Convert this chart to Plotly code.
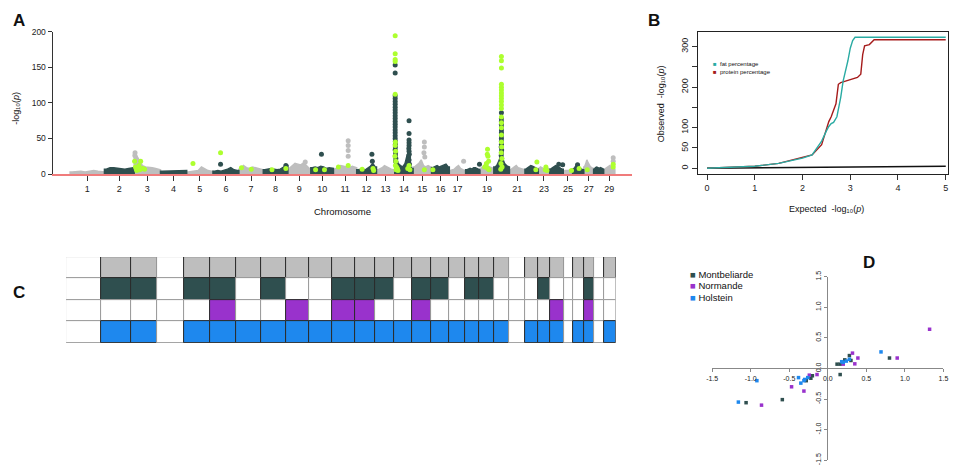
import plotly.graph_objects as go

W0, H0 = 963, 474
M = 8  # default page body margin in the browser
W, H = W0 - M, H0 - M
def px(x): return (x - M) / W
def py(y): return 1 - (y - M) / H

FONT = "Liberation Sans, Arial, DejaVu Sans, sans-serif"
GREY, DARK, GREEN = "#bebebe", "#2f4f4f", "#adff2f"
PURPLE, BLUE = "#9932cc", "#1e88ee"

# ---------------- data ----------------
chrom_len = [158.3, 137.1, 121.4, 120.7, 121.2, 119.5, 112.6, 113.4, 105.7, 104.3,
             107.3, 91.2, 84.2, 84.6, 85.3, 81.7, 75.2, 66.0, 64.1, 72.0,
             71.6, 61.4, 52.5, 62.7, 42.9, 51.7, 45.4, 46.3, 51.5]
chrom_tick_labels = ["1", "2", "3", "4", "5", "6", "7", "8", "9", "10", "11", "12", "13",
                     "14", "15", "16", "17", "19", "21", "23", "25", "27", "29"]

# background envelope of -log10(p) per chromosome (8 evenly spaced readings)
bg_levels = [
    [3, 4, 4, 3, 4, 5, 4, 3], [7, 9, 9, 8, 8, 7, 8, 9], [28, 20, 12, 10, 10, 9, 8, 6],
    [4, 4, 4, 4, 4, 4, 5, 5], [3, 4, 4, 5, 10, 7, 5, 4], [4, 5, 4, 5, 7, 9, 6, 5],
    [7, 12, 9, 8, 10, 9, 7, 6], [6, 7, 8, 7, 6, 7, 10, 12], [8, 12, 15, 14, 13, 16, 12, 8],
    [9, 10, 9, 11, 10, 8, 9, 8], [7, 10, 12, 11, 10, 9, 11, 9], [6, 7, 7, 6, 8, 11, 15, 10],
    [6, 7, 9, 12, 10, 8, 7, 6], [25, 15, 12, 10, 15, 28, 12, 8], [10, 12, 15, 20, 12, 10, 12, 10],
    [9, 11, 12, 10, 11, 13, 14, 10], [5, 6, 7, 10, 12, 8, 6, 5], [6, 7, 8, 7, 9, 9, 8, 6],
    [8, 10, 9, 14, 11, 10, 9, 8], [10, 12, 18, 25, 22, 15, 12, 10], [6, 8, 10, 12, 9, 8, 7, 6],
    [7, 9, 10, 12, 11, 10, 8, 7], [8, 10, 9, 8, 7, 8, 9, 7], [7, 9, 10, 12, 11, 9, 8, 7],
    [4, 5, 5, 4, 5, 6, 5, 4], [7, 9, 12, 11, 9, 8, 7, 6], [10, 14, 20, 16, 12, 10, 9, 8],
    [7, 9, 10, 9, 8, 9, 8, 7], [6, 8, 9, 11, 12, 10, 8, 7],
]

grey_chr = [11, 11, 11, 11, 15, 15, 15, 15, 17, 29, 29, 9, 3, 3]
grey_pos = [68, 68, 68, 68, 52, 52, 50, 54, 66, 44, 44, 80, 4, 3]
grey_val = [47, 40, 33, 25, 45, 38, 30, 24, 18, 23, 18, 17, 30, 26]

dark_chr = [6, 8, 10, 12, 12,
            14, 14, 14, 14, 14, 14, 14, 14, 14, 14, 14, 14, 14, 14, 14, 14, 14, 14, 14, 14, 14, 14, 14, 14, 14, 14,
            14, 14, 14, 14, 14, 14, 14, 14, 14, 14, 14, 14,
            18,
            20, 20, 20, 20, 20, 20, 20, 20, 20, 20, 20, 20, 20, 20, 20, 20,
            24, 24, 26]
dark_pos = [35, 104, 49, 70, 72,
            2, 2, 2, 2, 2, 2, 2, 2, 2, 2, 2, 2, 2, 2, 2, 2, 2, 2, 3, 3, 3, 2, 4, 3, 5, 4,
            66, 66, 66, 66, 66, 65, 66, 67, 64, 66, 63, 68,
            64,
            35, 35, 35, 35, 35, 35, 35, 35, 35, 35, 35, 34, 36, 35, 34, 36,
            42, 60, 23]
dark_val = [14, 12, 28, 28, 18,
            153, 142, 110, 106, 102, 98, 94, 90, 86, 82, 78, 74, 70, 66, 62, 58, 54, 50, 46, 42, 38, 34, 30, 26, 22, 18,
            75, 57, 48, 44, 40, 36, 32, 28, 24, 20, 16, 14,
            14,
            86, 78, 74, 70, 66, 62, 58, 54, 50, 46, 42, 38, 34, 30, 26, 22,
            14, 13, 13]

green_chr = [3, 3, 3, 3, 3, 3, 3, 3, 3, 3, 5, 6, 7, 7, 8, 8, 10, 10, 11, 11, 12, 12, 12,
             14, 14, 14, 14, 14, 14, 14, 14, 14, 14, 14, 14, 14, 14, 14, 14, 14, 14, 15, 16,
             19, 19, 19, 19, 19, 19, 19, 19, 19,
             20, 20, 20, 20, 20, 20, 20, 20, 20, 20, 20, 20, 20, 20, 20, 20, 20, 20, 20, 20, 20, 20, 20,
             22, 22, 23, 23, 23, 25, 26, 27, 29, 29]
green_pos = [2, 6, 10, 16, 22, 30, 39, 48, 12, 26, 29, 35, 12, 57, 40, 104, 22, 63, 68, 23, 25, 75, 78,
             2, 2, 2, 2, 2, 3, 2, 4, 1, 5, 3, 8, 12, 6, 15, 60, 66, 70, 52, 6,
             35, 34, 37, 40, 28, 36, 42, 22, 30,
             35, 35, 35, 35, 35, 35, 35, 35, 35, 35, 35, 35, 35, 35, 35, 35, 35, 36, 34, 37, 33, 38, 32,
             55, 50, 35, 32, 40, 38, 30, 16, 44, 44]
green_val = [18, 10, 7, 8, 12, 18, 8, 7, 5, 6, 15, 30, 9, 7, 6, 8, 6, 6, 12, 10, 7, 8, 5,
             194, 169, 161, 158, 112, 45, 40, 32, 25, 18, 12, 10, 8, 6, 5, 8, 12, 6, 6, 6,
             35, 28, 25, 18, 12, 8, 6, 10, 15,
             165, 159, 149, 126, 122, 118, 114, 110, 106, 102, 97, 92, 80, 72, 65, 55, 45, 38, 30, 22, 15, 10, 7,
             17, 6, 10, 6, 5, 5, 8, 6, 10, 14]

qq_fat_x = [0, 0.5, 1.0, 1.5, 2.0, 2.2, 2.4, 2.5, 2.55, 2.6, 2.65, 2.72, 2.8, 2.85, 2.9, 2.95, 3.0, 3.05, 3.1, 5.0]
qq_fat_y = [0, 2, 5, 12, 25, 33, 67, 92, 103, 110, 113, 127, 175, 215, 239, 265, 296, 315, 323, 323]
qq_prot_x = [0, 0.5, 1.0, 1.5, 2.0, 2.2, 2.4, 2.5, 2.55, 2.6, 2.7, 2.75, 2.8, 2.9, 3.0, 3.15, 3.22, 3.26, 3.3, 3.4, 3.5, 5.0]
qq_prot_y = [0, 2, 5, 12, 26, 33, 58, 95, 115, 127, 159, 207, 211, 215, 219, 224, 232, 280, 302, 305, 317, 317]
qq_expected = [0, 5]

row_all = [0, 1, 1, 0, 1, 1, 1, 1, 1, 1, 1, 1, 1, 1, 1, 1, 1, 1, 1, 1, 0, 1, 1, 1, 0, 1, 1, 0, 1]
row_mont = [0, 1, 1, 0, 1, 1, 0, 1, 0, 0, 1, 1, 1, 0, 1, 1, 0, 1, 1, 0, 0, 0, 1, 0, 0, 0, 1, 0, 0]
row_norm = [0, 0, 0, 0, 0, 1, 0, 0, 1, 0, 1, 1, 0, 0, 1, 0, 0, 0, 0, 0, 0, 0, 0, 1, 0, 0, 1, 0, 0]
row_hol = [0, 1, 1, 0, 1, 1, 1, 1, 1, 1, 1, 1, 1, 1, 1, 1, 1, 1, 1, 1, 0, 1, 1, 1, 0, 1, 1, 0, 1]

mont_x = [0.80, 0.28, 0.16, 0.12, 0.16, 0.22, 0.30, -0.20, -0.28, -0.59, -1.06, -0.22]
mont_y = [0.17, 0.21, -0.10, 0.07, 0.07, 0.14, 0.13, -0.12, -0.20, -0.51, -0.56, -0.16]
norm_x = [1.32, 0.90, 0.39, 0.35, 0.32, 0.20, -0.24, -0.14, -0.47, -0.31, -0.86]
norm_y = [0.64, 0.17, 0.17, 0.075, 0.25, 0.07, -0.11, -0.10, -0.30, -0.37, -0.60]
hol_x = [0.69, 0.20, 0.24, 0.28, 0.18, -0.26, -0.30, -0.35, -0.31, -1.16, -0.92, -0.38]
hol_y = [0.27, 0.10, 0.12, 0.15, 0.11, -0.15, -0.18, -0.24, -0.20, -0.55, -0.20, -0.15]

# ---------------- derived positions ----------------
starts = []
acc = 0.0
for L in chrom_len:
    starts.append(acc)
    acc += L
total_len = acc
centers = [s + L / 2 for s, L in zip(starts, chrom_len)]
tick_centers = [centers[int(c) - 1] for c in chrom_tick_labels]

def gpos(chrs, poss):
    return [starts[c - 1] + p for c, p in zip(chrs, poss)]

fig = go.Figure()

# ---- Panel A: Manhattan ----
for parity, col in ((0, GREY), (1, DARK)):
    xs, ys = [], []
    for i, lv in enumerate(bg_levels):
        if i % 2 != parity:
            continue
        s, L = starts[i], chrom_len[i]
        n = len(lv)
        xs += [s, s] + [s + L * (k + 0.5) / n for k in range(n)] + [s + L, s + L, None]
        ys += [0, lv[0]] + list(lv) + [lv[-1], 0, None]
    fig.add_trace(go.Scatter(x=xs, y=ys, mode="lines", fill="toself", fillcolor=col,
                             line=dict(color=col, width=1.5), xaxis="x", yaxis="y",
                             hoverinfo="skip", showlegend=False))

for chrs, poss, vals, col in ((grey_chr, grey_pos, grey_val, GREY),
                              (dark_chr, dark_pos, dark_val, DARK),
                              (green_chr, green_pos, green_val, GREEN)):
    fig.add_trace(go.Scatter(x=gpos(chrs, poss), y=vals, mode="markers",
                             marker=dict(color=col, size=5, line=dict(width=0)),
                             xaxis="x", yaxis="y", showlegend=False, hoverinfo="skip",
                             cliponaxis=False))

# ---- Panel B: QQ ----
fig.add_trace(go.Scatter(x=qq_expected, y=qq_expected, mode="lines",
                         line=dict(color="#111", width=1.5), xaxis="x2", yaxis="y2",
                         showlegend=False, hoverinfo="skip"))
fig.add_trace(go.Scatter(x=qq_prot_x, y=qq_prot_y, mode="lines",
                         line=dict(color="#a51b1b", width=1.4), xaxis="x2", yaxis="y2",
                         showlegend=False, hoverinfo="skip"))
fig.add_trace(go.Scatter(x=qq_fat_x, y=qq_fat_y, mode="lines",
                         line=dict(color="#2aaba3", width=1.4), xaxis="x2", yaxis="y2",
                         showlegend=False, hoverinfo="skip"))

# ---- Panel C: grid ----
for row, base, col in ((row_all, 3, GREY), (row_mont, 2, DARK), (row_norm, 1, PURPLE), (row_hol, 0, BLUE)):
    fig.add_trace(go.Bar(x=centers, y=[1] * len(row), base=[base] * len(row), width=chrom_len,
                         marker=dict(color=[col if v else "white" for v in row],
                                     line=dict(color=["#2b2b2b" if v else "#9a9a9a" for v in row], width=1)),
                         xaxis="x3", yaxis="y3", showlegend=False, hoverinfo="skip"))

# ---- Panel D: scatter ----
for xs, ys, col in ((mont_x, mont_y, DARK), (norm_x, norm_y, PURPLE), (hol_x, hol_y, BLUE)):
    fig.add_trace(go.Scatter(x=xs, y=ys, mode="markers",
                             marker=dict(color=col, size=3.5, symbol="square", line=dict(width=0)),
                             xaxis="x4", yaxis="y4", showlegend=False, hoverinfo="skip",
                             cliponaxis=False))

def tf(size):
    return dict(size=size, color="#222", family=FONT)

axis_common = dict(showgrid=False, zeroline=False, ticks="outside", tickcolor="#333")
d_ticks = [-1.5, -1, -0.5, 0, 0.5, 1, 1.5]
d_text = ["-1.5", "-1.0", "-0.5", "0.0", "0.5", "1.0", "1.5"]

fig.update_layout(
    width=W, height=H, margin=dict(l=0, r=0, t=0, b=0),
    paper_bgcolor="white", plot_bgcolor="rgba(0,0,0,0)",
    font=dict(family=FONT, color="#222"),
    barmode="overlay", bargap=0,
    xaxis=dict(domain=[px(47), px(633)], range=[-81, 2590], anchor="y",
               showline=True, linecolor="#f07b7b", linewidth=1.5, ticklen=5,
               tickvals=tick_centers, ticktext=chrom_tick_labels, tickfont=tf(9), **axis_common),
    yaxis=dict(domain=[py(172), py(26)], range=[0, 200], anchor="x",
               showline=True, linecolor="#333", linewidth=1, ticklen=4,
               tickvals=[0, 50, 100, 150, 200], tickfont=tf(8.5), **axis_common),
    xaxis2=dict(domain=[px(700), px(953)], range=[-0.19, 5.05], anchor="y2",
                showline=True, mirror=True, linecolor="#222", linewidth=1.2, ticklen=5,
                tickvals=[0, 1, 2, 3, 4, 5], tickfont=tf(9), **axis_common),
    yaxis2=dict(domain=[py(172), py(26)], range=[-14.5, 337], anchor="x2",
                showline=True, mirror=True, linecolor="#222", linewidth=1.2, ticklen=5,
                tickvals=[0, 50, 100, 200, 300], tickangle=-90, tickfont=tf(9),
                minor=dict(dtick=50, tick0=0, ticks="outside", ticklen=5, tickcolor="#333"),
                **axis_common),
    xaxis3=dict(domain=[px(60.7), px(616.7)], range=[0, total_len], anchor="y3", visible=False),
    yaxis3=dict(domain=[py(345), py(257)], range=[0, 4], anchor="x3", visible=False),
    xaxis4=dict(domain=[px(714.3), px(948.3)], range=[-1.5, 1.5], anchor="free", position=py(370.7),
                showline=True, linecolor="#888", linewidth=1, ticks="outside", ticklen=3, tickcolor="#888",
                tickvals=d_ticks, ticktext=d_text, tickfont=tf(7), showgrid=False, zeroline=False),
    yaxis4=dict(domain=[py(465), py(277)], range=[-1.5, 1.5], anchor="free", position=px(830.7),
                showline=True, linecolor="#888", linewidth=1, ticks="outside", ticklen=3, tickcolor="#888",
                tickvals=d_ticks, ticktext=d_text, tickangle=-90,
                tickfont=tf(7), showgrid=False, zeroline=False),
)

def ann(x, y, text, size=9, xanchor="center", yanchor="middle", angle=0, bold=False):
    if bold:
        text = "<b>" + text + "</b>"
    fig.add_annotation(x=px(x), y=py(y), xref="paper", yref="paper", text=text, showarrow=False,
                       xanchor=xanchor, yanchor=yanchor, textangle=angle,
                       font=dict(size=size, family=FONT, color="#111"))

ann(13, 15, "A", size=17, bold=True)
ann(655, 15, "B", size=17, bold=True)
ann(13, 293, "C", size=17, bold=True)
ann(873, 262, "D", size=17, bold=True)

ann(10, 104, "-log₁₀(<i>p</i>)", size=9, angle=-90)
ann(340, 210, "Chromosome", size=9.5)
ann(830, 208, "Expected  -log₁₀(<i>p</i>)", size=9)
ann(662, 100, "Observed  -log₁₀(<i>p</i>)", size=9, angle=-90)

ann(713, 59, "<span style='color:#2aaba3'>■</span>  fat percentage", size=6, xanchor="left")
ann(713, 67, "<span style='color:#a51b1b'>■</span>  protein percentage", size=6, xanchor="left")

ann(690, 275, "<span style='color:%s'>■</span> Montbeliarde" % DARK, size=9.5, xanchor="left")
ann(690, 286.5, "<span style='color:%s'>■</span> Normande" % PURPLE, size=9.5, xanchor="left")
ann(690, 298, "<span style='color:%s'>■</span> Holstein" % BLUE, size=9.5, xanchor="left")

fig.write_html("out.html")
